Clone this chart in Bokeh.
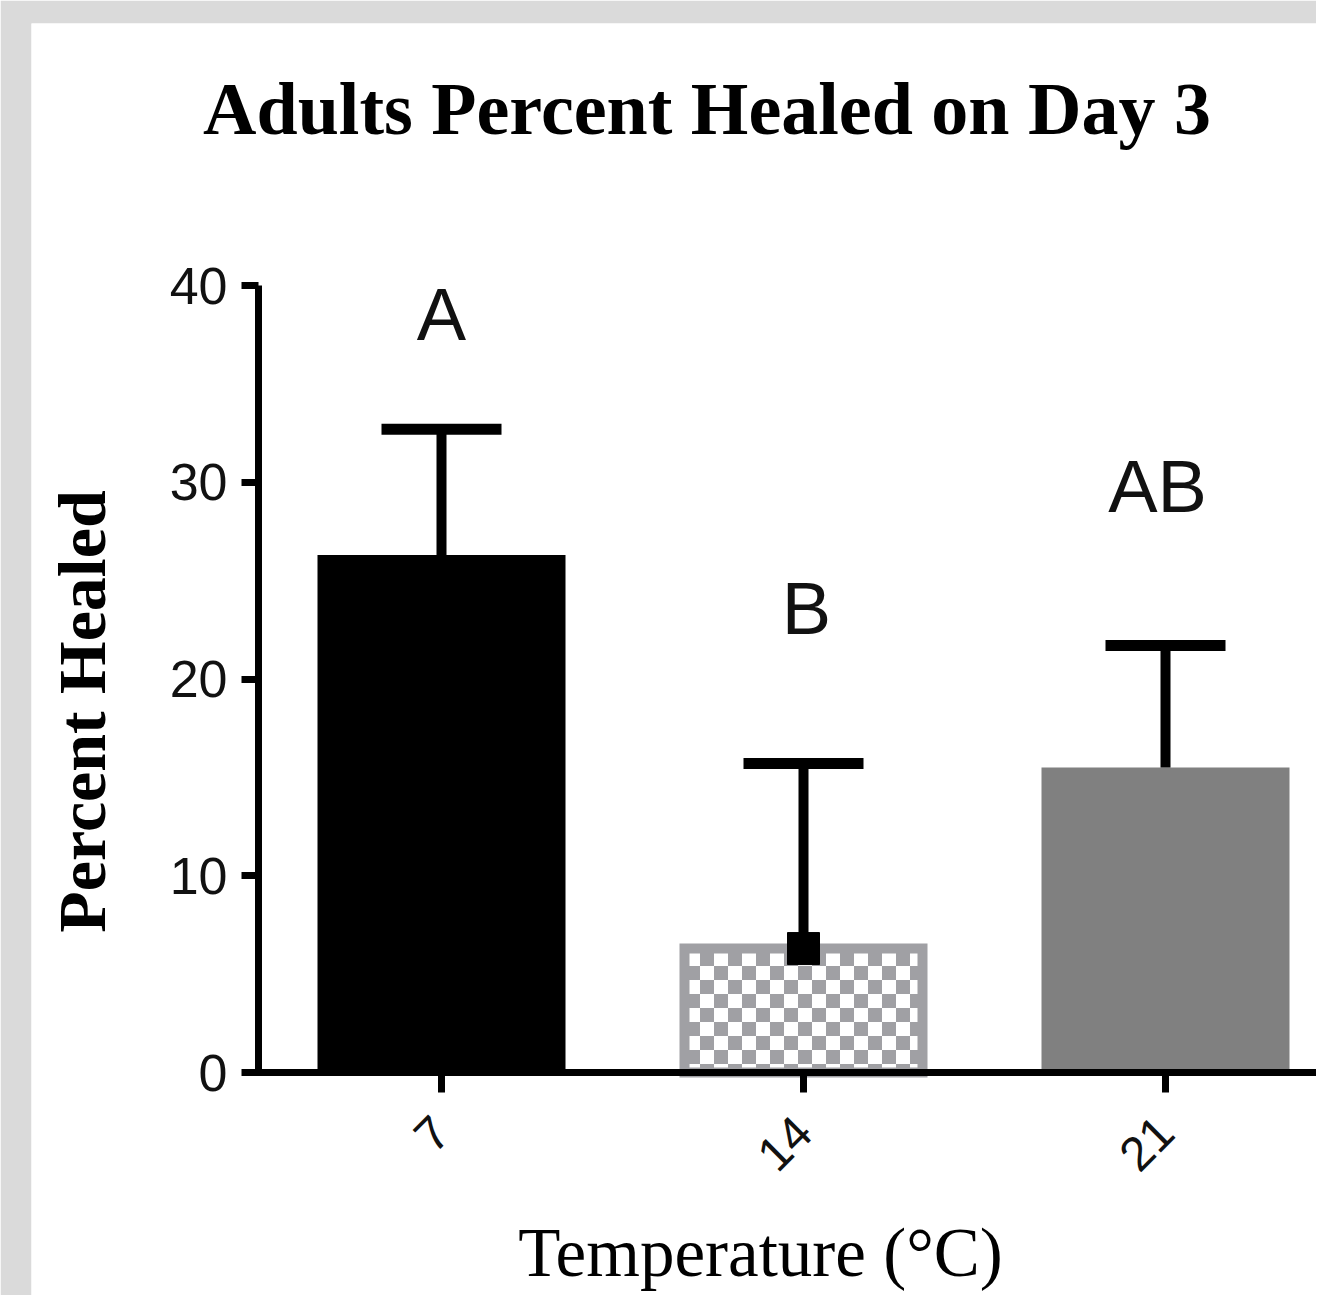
import base64
from math import pi

from bokeh.plotting import figure
from bokeh.models import Range1d, FixedTicker, ImageURLTexture
from bokeh.core.properties import value
from bokeh.embed import file_html
from bokeh.resources import INLINE

# ---------------- data ----------------
temperatures = ["7", "14", "21"]          # °C (x categories)
mean_healed = [26.3, 6.3, 15.5]           # percent healed (bar heights)
sem_healed = [6.4, 9.4, 6.2]              # error (upper whisker length)
group_letters = ["A", "B", "AB"]          # significance groups
y_ticks = [0, 10, 20, 30, 40]

TITLE = "Adults Percent Healed on Day 3"
X_LABEL = "Temperature (°C)"
Y_LABEL = "Percent Healed"

xs = list(range(1, len(temperatures) + 1))
upper = [m + s for m, s in zip(mean_healed, sem_healed)]

# ---------------- geometry (pixels of the picture) ----------------
W, H = 1316, 1295
LEFT, TOP = 31, 23
frame_w, frame_h = W - LEFT, H - TOP
PX_X = 362.0      # px per category step
PX_Y = 19.675     # px per percent
X1_PX = 441       # px of first category centre
Y0_PX = 1072      # px of y = 0


def dx(px):
    return 1 + (px - X1_PX) / PX_X


def dy(py):
    return (Y0_PX - py) / PX_Y


x0 = dx(LEFT)
x1 = x0 + frame_w / PX_X
y1 = dy(TOP)
y0 = y1 - frame_h / PX_Y
yaxis_x = dx(258)
bar_w = 248 / PX_X
cap_half = 60 / PX_X
SHIFT = 27   # bokeh text anchor correction (px)

p = figure(width=W, height=H, x_range=Range1d(x0, x1), y_range=Range1d(y0, y1),
           output_backend="svg", toolbar_location=None,
           min_border_left=LEFT, min_border_top=TOP,
           min_border_right=0, min_border_bottom=0,
           border_fill_color="#dadada", background_fill_color="white",
           outline_line_color=None)
p.grid.visible = False

# ---------------- axes ----------------
ya = p.yaxis[0]
ya.fixed_location = yaxis_x
ya.ticker = FixedTicker(ticks=y_ticks)
ya.bounds = (0, 40)
ya.axis_line_width = 7
ya.axis_line_color = "black"
ya.major_tick_line_width = 7
ya.major_tick_out = 17
ya.major_tick_in = 0
ya.minor_tick_out = 0
ya.minor_tick_in = 0
ya.major_label_text_font = "Liberation Sans"
ya.major_label_text_font_size = "52px"
ya.major_label_text_color = "#111111"
ya.major_label_standoff = 14

xa = p.xaxis[0]
xa.fixed_location = 0
xa.ticker = FixedTicker(ticks=xs)
xa.major_label_overrides = {x: t for x, t in zip(xs, temperatures)}
xa.bounds = (yaxis_x - 3.5 / PX_X, x1)
xa.axis_line_width = 7
xa.axis_line_color = "black"
xa.major_tick_line_width = 7
xa.major_tick_out = 20
xa.major_tick_in = 0
xa.minor_tick_out = 0
xa.minor_tick_in = 0
xa.major_label_orientation = pi / 4
xa.major_label_text_font = "Liberation Sans"
xa.major_label_text_font_size = "48px"
xa.major_label_text_color = "#111111"
xa.major_label_standoff = 32

# ---------------- checker texture ----------------
svg = ('<svg xmlns="http://www.w3.org/2000/svg" width="28" height="28">'
       '<rect width="28" height="28" fill="white"/>'
       '<rect x="0" y="0" width="14" height="14" fill="#a0a0a4"/>'
       '<rect x="14" y="14" width="14" height="14" fill="#a0a0a4"/>'
       '</svg>')
uri = "data:image/svg+xml;base64," + base64.b64encode(svg.encode()).decode()
checker = ImageURLTexture(url=uri)

# ---------------- bars ----------------
p.vbar(x=[xs[0]], top=[mean_healed[0]], bottom=0, width=bar_w,
       fill_color="black", line_color=None)
p.vbar(x=[xs[1]], top=[mean_healed[1]], bottom=0, width=bar_w - 10 / PX_X,
       fill_color="white", line_color="#a0a0a4", line_width=10, line_join="miter",
       hatch_pattern=value("checker"), hatch_extra={"checker": checker})
p.vbar(x=[xs[2]], top=[mean_healed[2]], bottom=0, width=bar_w,
       fill_color="#808080", line_color=None)

# ---------------- error bars ----------------
p.segment(x0=xs, y0=mean_healed, x1=xs, y1=upper, line_color="black", line_width=10)
p.segment(x0=[x - cap_half for x in xs], y0=upper,
          x1=[x + cap_half for x in xs], y1=upper,
          line_color="black", line_width=11)
p.scatter(x=[xs[1]], y=[mean_healed[1]], marker="square", size=32,
          fill_color="black", line_color="black")

# ---------------- significance letters ----------------
letter_x = [dx(441), dx(806), dx(1157)]
letter_y = [dy(341 - SHIFT), dy(635 - SHIFT), dy(513 - SHIFT)]
p.text(x=letter_x, y=letter_y, text=group_letters,
       text_font=value("Liberation Sans"), text_font_size="74px",
       text_color="#111111", text_align="center", text_baseline="alphabetic")

# ---------------- titles ----------------
p.text(x=[dx(706.5)], y=[dy(135 - SHIFT)], text=[TITLE],
       text_font=value("Liberation Serif"), text_font_style="bold",
       text_font_size="74px", text_color="black",
       text_align="center", text_baseline="alphabetic")
p.text(x=[dx(108 - SHIFT)], y=[dy(711)], text=[Y_LABEL],
       angle=pi / 2,
       text_font=value("Liberation Serif"), text_font_style="bold",
       text_font_size="68px", text_color="black",
       text_align="center", text_baseline="alphabetic")
p.text(x=[dx(760)], y=[dy(1279 - SHIFT)], text=[X_LABEL],
       text_font=value("Liberation Serif"),
       text_font_size="69px", text_color="black",
       text_align="center", text_baseline="alphabetic")

open("out.html", "w").write(file_html(p, INLINE))
